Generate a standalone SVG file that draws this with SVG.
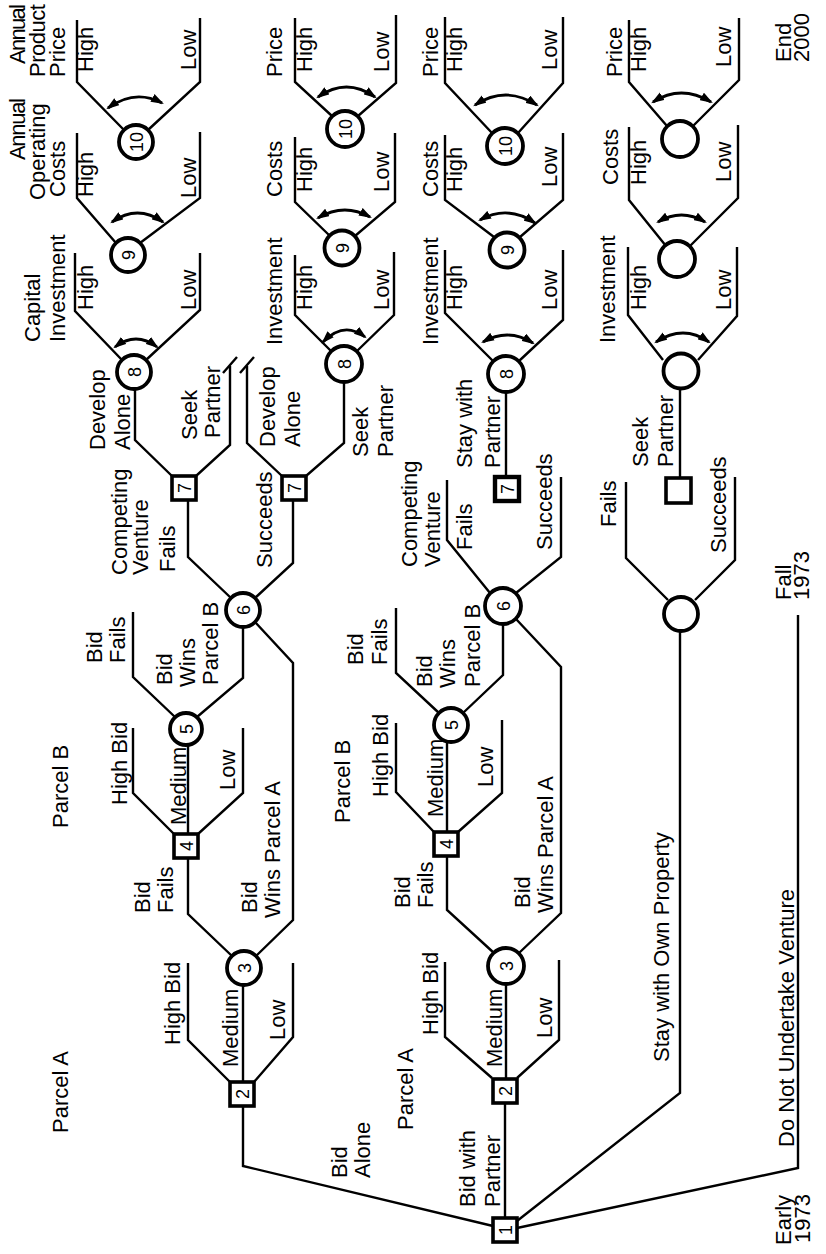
<svg xmlns="http://www.w3.org/2000/svg" width="826" height="1254" viewBox="0 0 826 1254">
<style>
.ln{fill:none;stroke:#000;stroke-width:2.4;stroke-linejoin:miter}
.sw{fill:none;stroke:#000;stroke-width:2.8;marker-start:url(#ah);marker-end:url(#ah)}
.cn{fill:#fff;stroke:#000;stroke-width:3.8}
.sq{fill:#fff;stroke:#000;stroke-width:3.6}
.t{font-family:"Liberation Sans",Arial,Helvetica,sans-serif;font-size:22px;fill:#000}
.n{font-family:"Liberation Sans",Arial,Helvetica,sans-serif;font-size:18px;fill:#000;text-anchor:middle}
</style>
<defs>
<marker id="ah" viewBox="0 0 12 8" refX="10" refY="4" markerWidth="13" markerHeight="9" markerUnits="userSpaceOnUse" orient="auto-start-reverse"><path d="M0 0 L12 4 L0 8 z"/></marker>
</defs>
<rect width="826" height="1254" fill="#fff"/>
<g id="connectors">
<path class="ln" d="M493 1226 L243 1166 L243 1106"/>
<path class="ln" d="M505 1218 L505 1103"/>
<path class="ln" d="M517 1221 L680 1093 L680 631"/>
<path class="ln" d="M517 1228 L798 1168 L798 615"/>
<path class="ln" d="M230 1082 L188 1040 L188 963"/>
<path class="ln" d="M243 1082 L243 985"/>
<path class="ln" d="M254 1082 L293 1037 L293 963"/>
<path class="ln" d="M232 956 L188 914 L188 858"/>
<path class="ln" d="M256 956 L293 920 L293 663 L255 622"/>
<path class="ln" d="M174 834 L133 793 L133 728"/>
<path class="ln" d="M188 834 L188 745"/>
<path class="ln" d="M198 834 L243 793 L243 728"/>
<path class="ln" d="M175 717 L133 677 L133 612"/>
<path class="ln" d="M197 717 L243 678 L243 627"/>
<path class="ln" d="M231 598 L188 557 L188 500"/>
<path class="ln" d="M255 598 L293 563 L293 500"/>
<path class="ln" d="M172 476 L135 440 L135 389"/>
<path class="ln" d="M196 476 L230 445 L230 366"/>
<path class="ln" d="M282 476 L247 443 L247 366"/>
<path class="ln" d="M306 476 L344 443 L344 382"/>
<path class="ln" d="M223 373 L237 357 M240 373 L254 357"/>
<path class="ln" d="M122 360 L75 311 L75 253"/>
<path class="ln" d="M146 360 L200 310 L200 253"/>
<path class="ln" d="M116 243 L77 198 L77 133"/>
<path class="ln" d="M140 243 L200 198 L200 132"/>
<path class="ln" d="M124 130 L77 82 L77 20"/>
<path class="ln" d="M148 130 L200 82 L200 18"/>
<path class="ln" d="M331 351 L295 315 L295 255"/>
<path class="ln" d="M357 351 L394 315 L394 252"/>
<path class="ln" d="M330 236 L295 202 L295 137"/>
<path class="ln" d="M355 236 L395 202 L395 133"/>
<path class="ln" d="M332 116 L295 82 L295 18"/>
<path class="ln" d="M358 116 L396 83 L396 15"/>
<path class="ln" d="M492 1078 L445 1037 L445 962"/>
<path class="ln" d="M506 1079 L506 984"/>
<path class="ln" d="M517 1078 L559 1040 L559 960"/>
<path class="ln" d="M494 953 L447 910 L447 857"/>
<path class="ln" d="M519 953 L561 913 L561 667 L516 619"/>
<path class="ln" d="M434 832 L396 792 L396 723"/>
<path class="ln" d="M447 832 L447 742"/>
<path class="ln" d="M458 832 L502 793 L502 720"/>
<path class="ln" d="M439 713 L396 673 L396 608"/>
<path class="ln" d="M463 713 L503 675 L503 624"/>
<path class="ln" d="M490 593 L447 540 L447 480"/>
<path class="ln" d="M516 593 L561 557 L561 477"/>
<path class="ln" d="M506 477 L506 392"/>
<path class="ln" d="M493 361 L445 313 L445 250"/>
<path class="ln" d="M519 361 L563 320 L563 250"/>
<path class="ln" d="M494 237 L445 200 L445 135"/>
<path class="ln" d="M520 237 L563 200 L563 133"/>
<path class="ln" d="M492 133 L445 83 L445 17"/>
<path class="ln" d="M518 133 L563 83 L563 17"/>
<path class="ln" d="M668 600 L626 558 L626 482"/>
<path class="ln" d="M695 600 L735 560 L735 477"/>
<path class="ln" d="M680 478 L680 388"/>
<path class="ln" d="M663 360 L628 315 L628 247"/>
<path class="ln" d="M698 360 L737 316 L737 247"/>
<path class="ln" d="M666 246 L629 200 L629 127"/>
<path class="ln" d="M690 246 L738 198 L738 125"/>
<path class="ln" d="M667 126 L629 82 L629 20"/>
<path class="ln" d="M693 126 L739 80 L739 18"/>
</g>
<g id="swing-arrows">
<path class="sw" d="M115 347 Q136 331 157 347"/>
<path class="sw" d="M112 222 Q137.5 204 163 222"/>
<path class="sw" d="M108 108 Q135 88.5 162 103"/>
<path class="sw" d="M323 342 Q344 320.5 365 337"/>
<path class="sw" d="M318 218 Q344 202.5 370 217"/>
<path class="sw" d="M318 97 Q346.5 77 375 97"/>
<path class="sw" d="M483 342 Q508 327.5 533 343"/>
<path class="sw" d="M480 220 Q507.5 204.5 535 223"/>
<path class="sw" d="M475 105 Q505.5 85 537 105"/>
<path class="sw" d="M656 342 Q683.5 324 709 342"/>
<path class="sw" d="M658 222 Q681.5 208 705 222"/>
<path class="sw" d="M653 102 Q681 84 711 102"/>
</g>
<g id="n1"><rect class="sq" x="493" y="1218" width="24" height="24"/><text class="n" transform="translate(505 1230) rotate(-90)" dy="6.5">1</text></g>
<g id="n2a"><rect class="sq" x="230" y="1082" width="24" height="24"/><text class="n" transform="translate(242 1094) rotate(-90)" dy="6.5">2</text></g>
<g id="n3a"><circle class="cn" cx="244" cy="968" r="17"/><text class="n" transform="translate(244 968) rotate(-90)" dy="6.5">3</text></g>
<g id="n4a"><rect class="sq" x="174" y="834" width="24" height="24"/><text class="n" transform="translate(186 846) rotate(-90)" dy="6.5">4</text></g>
<g id="n5a"><circle class="cn" cx="186" cy="729" r="16"/><text class="n" transform="translate(186 729) rotate(-90)" dy="6.5">5</text></g>
<g id="n6a"><circle class="cn" cx="243" cy="610" r="17"/><text class="n" transform="translate(243 610) rotate(-90)" dy="6.5">6</text></g>
<g id="n7a"><rect class="sq" x="172" y="476" width="24" height="24"/><text class="n" transform="translate(184 488) rotate(-90)" dy="6.5">7</text></g>
<g id="n7b"><rect class="sq" x="282" y="476" width="24" height="24"/><text class="n" transform="translate(294 488) rotate(-90)" dy="6.5">7</text></g>
<g id="n8a"><circle class="cn" cx="134" cy="372" r="17"/><text class="n" transform="translate(134 372) rotate(-90)" dy="6.5">8</text></g>
<g id="n9a"><circle class="cn" cx="128" cy="255" r="17"/><text class="n" transform="translate(128 255) rotate(-90)" dy="6.5">9</text></g>
<g id="n10a"><circle class="cn" cx="136" cy="142" r="17"/><text class="n" transform="translate(136 142) rotate(-90)" dy="6.5">10</text></g>
<g id="n8b"><circle class="cn" cx="344" cy="364" r="18"/><text class="n" transform="translate(344 364) rotate(-90)" dy="6.5">8</text></g>
<g id="n9b"><circle class="cn" cx="342" cy="248" r="17.5"/><text class="n" transform="translate(342 248) rotate(-90)" dy="6.5">9</text></g>
<g id="n10b"><circle class="cn" cx="345" cy="129" r="18"/><text class="n" transform="translate(345 129) rotate(-90)" dy="6.5">10</text></g>
<g id="n2c"><rect class="sq" x="493" y="1079" width="24" height="24"/><text class="n" transform="translate(505 1091) rotate(-90)" dy="6.5">2</text></g>
<g id="n3c"><circle class="cn" cx="506" cy="966" r="18"/><text class="n" transform="translate(506 966) rotate(-90)" dy="6.5">3</text></g>
<g id="n4c"><rect class="sq" x="434" y="832" width="24" height="24"/><text class="n" transform="translate(446 844) rotate(-90)" dy="6.5">4</text></g>
<g id="n5c"><circle class="cn" cx="451" cy="725" r="17"/><text class="n" transform="translate(451 725) rotate(-90)" dy="6.5">5</text></g>
<g id="n6c"><circle class="cn" cx="503" cy="606" r="18"/><text class="n" transform="translate(503 606) rotate(-90)" dy="6.5">6</text></g>
<g id="n7c"><rect class="sq" x="495" y="477" width="24" height="24" style="stroke-width:4.4"/><text class="n" transform="translate(507 489) rotate(-90)" dy="6.5">7</text></g>
<g id="n8c"><circle class="cn" cx="506" cy="374" r="18"/><text class="n" transform="translate(506 374) rotate(-90)" dy="6.5">8</text></g>
<g id="n9c"><circle class="cn" cx="507" cy="250" r="17.5"/><text class="n" transform="translate(507 250) rotate(-90)" dy="6.5">9</text></g>
<g id="n10c"><circle class="cn" cx="505" cy="146" r="18"/><text class="n" transform="translate(505 146) rotate(-90)" dy="6.5">10</text></g>
<g id="n6d"><circle class="cn" cx="681" cy="614" r="17"/></g>
<g id="n7d"><rect class="sq" x="666" y="478" width="25" height="25"/></g>
<g id="n8d"><circle class="cn" cx="681" cy="371" r="17.5"/></g>
<g id="n9d"><circle class="cn" cx="677" cy="259" r="18"/></g>
<g id="n10d"><circle class="cn" cx="680" cy="139" r="18"/></g>
<g id="labels">
<text class="t" transform="translate(25 64) rotate(-90)" textLength="60" lengthAdjust="spacing">Annual</text>
<text class="t" transform="translate(45 77) rotate(-90)" textLength="73" lengthAdjust="spacing">Product</text>
<text class="t" transform="translate(65 77) rotate(-90)">Price</text>
<text class="t" transform="translate(93 72) rotate(-90)">High</text>
<text class="t" transform="translate(196 70) rotate(-90)">Low</text>
<text class="t" transform="translate(25 160) rotate(-90)" textLength="62" lengthAdjust="spacing">Annual</text>
<text class="t" transform="translate(45 200) rotate(-90)">Operating</text>
<text class="t" transform="translate(65 197) rotate(-90)">Costs</text>
<text class="t" transform="translate(93 197) rotate(-90)">High</text>
<text class="t" transform="translate(196 198) rotate(-90)">Low</text>
<text class="t" transform="translate(40 342) rotate(-90)">Capital</text>
<text class="t" transform="translate(65 342) rotate(-90)">Investment</text>
<text class="t" transform="translate(93 310) rotate(-90)">High</text>
<text class="t" transform="translate(196 310) rotate(-90)">Low</text>
<text class="t" transform="translate(282 77) rotate(-90)">Price</text>
<text class="t" transform="translate(312 72) rotate(-90)">High</text>
<text class="t" transform="translate(389 72) rotate(-90)">Low</text>
<text class="t" transform="translate(282 197) rotate(-90)">Costs</text>
<text class="t" transform="translate(312 192) rotate(-90)">High</text>
<text class="t" transform="translate(389 192) rotate(-90)">Low</text>
<text class="t" transform="translate(282 345) rotate(-90)">Investment</text>
<text class="t" transform="translate(312 310) rotate(-90)">High</text>
<text class="t" transform="translate(389 310) rotate(-90)">Low</text>
<text class="t" transform="translate(438 77) rotate(-90)">Price</text>
<text class="t" transform="translate(462 72) rotate(-90)">High</text>
<text class="t" transform="translate(557 70) rotate(-90)">Low</text>
<text class="t" transform="translate(438 197) rotate(-90)">Costs</text>
<text class="t" transform="translate(462 192) rotate(-90)">High</text>
<text class="t" transform="translate(557 187) rotate(-90)">Low</text>
<text class="t" transform="translate(438 345) rotate(-90)">Investment</text>
<text class="t" transform="translate(462 310) rotate(-90)">High</text>
<text class="t" transform="translate(557 310) rotate(-90)">Low</text>
<text class="t" transform="translate(622 77) rotate(-90)">Price</text>
<text class="t" transform="translate(646 72) rotate(-90)">High</text>
<text class="t" transform="translate(731 67) rotate(-90)">Low</text>
<text class="t" transform="translate(618 185) rotate(-90)">Costs</text>
<text class="t" transform="translate(646 185) rotate(-90)">High</text>
<text class="t" transform="translate(731 182) rotate(-90)">Low</text>
<text class="t" transform="translate(615 343) rotate(-90)">Investment</text>
<text class="t" transform="translate(646 310) rotate(-90)">High</text>
<text class="t" transform="translate(731 310) rotate(-90)">Low</text>
<text class="t" transform="translate(791 62) rotate(-90)">End</text>
<text class="t" transform="translate(809 62) rotate(-90)">2000</text>
<text class="t" transform="translate(648 467) rotate(-90)">Seek</text>
<text class="t" transform="translate(673 467) rotate(-90)">Partner</text>
<text class="t" transform="translate(616 527) rotate(-90)">Fails</text>
<text class="t" transform="translate(726 553) rotate(-90)">Succeeds</text>
<text class="t" transform="translate(791 600) rotate(-90)">Fall</text>
<text class="t" transform="translate(809 600) rotate(-90)">1973</text>
<text class="t" transform="translate(669 1062) rotate(-90)">Stay with Own Property</text>
<text class="t" transform="translate(794 1147) rotate(-90)">Do Not Undertake Venture</text>
<text class="t" transform="translate(791 1245) rotate(-90)">Early</text>
<text class="t" transform="translate(810 1243) rotate(-90)">1973</text>
<text class="t" transform="translate(105 450) rotate(-90)">Develop</text>
<text class="t" transform="translate(130 450) rotate(-90)">Alone</text>
<text class="t" transform="translate(197 440) rotate(-90)">Seek</text>
<text class="t" transform="translate(220 438) rotate(-90)">Partner</text>
<text class="t" transform="translate(275 447) rotate(-90)">Develop</text>
<text class="t" transform="translate(300 447) rotate(-90)">Alone</text>
<text class="t" transform="translate(368 457) rotate(-90)">Seek</text>
<text class="t" transform="translate(393 457) rotate(-90)">Partner</text>
<text class="t" transform="translate(127 575) rotate(-90)">Competing</text>
<text class="t" transform="translate(148 575) rotate(-90)">Venture</text>
<text class="t" transform="translate(175 572) rotate(-90)">Fails</text>
<text class="t" transform="translate(272 568) rotate(-90)">Succeeds</text>
<text class="t" transform="translate(102 663) rotate(-90)">Bid</text>
<text class="t" transform="translate(125 663) rotate(-90)">Fails</text>
<text class="t" transform="translate(172 685) rotate(-90)">Bid</text>
<text class="t" transform="translate(195 687) rotate(-90)">Wins</text>
<text class="t" transform="translate(218 685) rotate(-90)">Parcel B</text>
<text class="t" transform="translate(68 828) rotate(-90)">Parcel B</text>
<text class="t" transform="translate(127 805) rotate(-90)">High Bid</text>
<text class="t" transform="translate(186 825) rotate(-90)">Medium</text>
<text class="t" transform="translate(235 790) rotate(-90)">Low</text>
<text class="t" transform="translate(150 913) rotate(-90)">Bid</text>
<text class="t" transform="translate(173 913) rotate(-90)">Fails</text>
<text class="t" transform="translate(257 913) rotate(-90)">Bid</text>
<text class="t" transform="translate(280 918) rotate(-90)">Wins Parcel A</text>
<text class="t" transform="translate(68 1133) rotate(-90)">Parcel A</text>
<text class="t" transform="translate(180 1045) rotate(-90)">High Bid</text>
<text class="t" transform="translate(238 1067) rotate(-90)">Medium</text>
<text class="t" transform="translate(285 1040) rotate(-90)">Low</text>
<text class="t" transform="translate(347 1178) rotate(-90)">Bid</text>
<text class="t" transform="translate(370 1178) rotate(-90)">Alone</text>
<text class="t" transform="translate(413 1130) rotate(-90)">Parcel A</text>
<text class="t" transform="translate(475 1207) rotate(-90)">Bid with</text>
<text class="t" transform="translate(500 1207) rotate(-90)">Partner</text>
<text class="t" transform="translate(438 1035) rotate(-90)">High Bid</text>
<text class="t" transform="translate(502 1067) rotate(-90)">Medium</text>
<text class="t" transform="translate(552 1038) rotate(-90)">Low</text>
<text class="t" transform="translate(410 908) rotate(-90)">Bid</text>
<text class="t" transform="translate(433 908) rotate(-90)">Fails</text>
<text class="t" transform="translate(530 908) rotate(-90)">Bid</text>
<text class="t" transform="translate(553 913) rotate(-90)">Wins Parcel A</text>
<text class="t" transform="translate(350 823) rotate(-90)">Parcel B</text>
<text class="t" transform="translate(388 797) rotate(-90)">High Bid</text>
<text class="t" transform="translate(443 817) rotate(-90)">Medium</text>
<text class="t" transform="translate(493 787) rotate(-90)">Low</text>
<text class="t" transform="translate(363 665) rotate(-90)">Bid</text>
<text class="t" transform="translate(387 665) rotate(-90)">Fails</text>
<text class="t" transform="translate(432 687) rotate(-90)">Bid</text>
<text class="t" transform="translate(455 688) rotate(-90)">Wins</text>
<text class="t" transform="translate(480 687) rotate(-90)">Parcel B</text>
<text class="t" transform="translate(417 567) rotate(-90)">Competing</text>
<text class="t" transform="translate(440 567) rotate(-90)">Venture</text>
<text class="t" transform="translate(472 550) rotate(-90)">Fails</text>
<text class="t" transform="translate(552 550) rotate(-90)">Succeeds</text>
<text class="t" transform="translate(472 468) rotate(-90)">Stay with</text>
<text class="t" transform="translate(500 468) rotate(-90)">Partner</text>
</g>
</svg>
